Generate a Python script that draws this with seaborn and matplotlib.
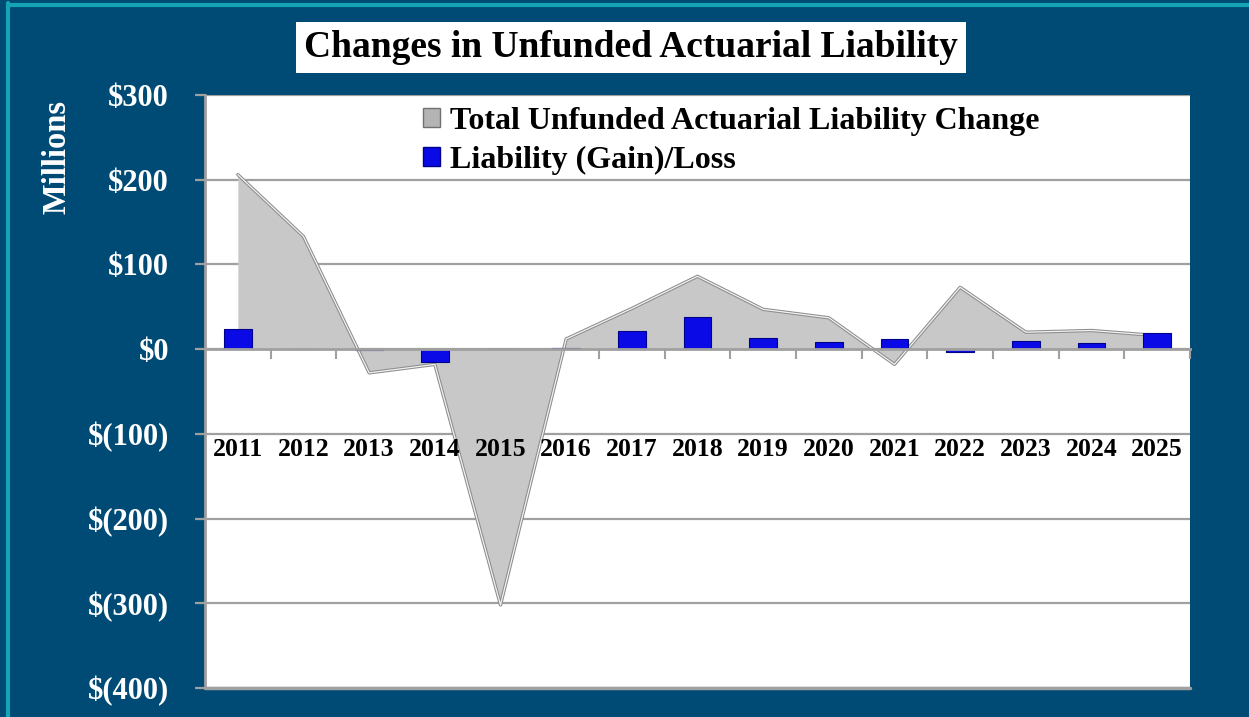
import numpy as np
import pandas as pd
import matplotlib
matplotlib.use('Agg')
import matplotlib.pyplot as plt
import seaborn as sns
from matplotlib.lines import Line2D
from matplotlib.patches import Rectangle
from matplotlib.ticker import FixedLocator

# --- data ($ millions) ---
years = ['2011', '2012', '2013', '2014', '2015', '2016', '2017', '2018',
         '2019', '2020', '2021', '2022', '2023', '2024', '2025']
total_change = [206, 133, -28, -18, -302, 12, 48, 86, 47, 37, -18, 73, 20, 22, 16]
gain_loss = [24, 0, -1, -15, 0, 1, 22, 38, 13, 9, 12, -3, 10, 7, 19]

y_ticks = [300, 200, 100, 0, -100, -200, -300, -400]
y_labels = ['$300', '$200', '$100', '$0', '$(100)', '$(200)', '$(300)', '$(400)']

df = pd.DataFrame({'Year': years, 'Total': total_change, 'GainLoss': gain_loss})

BG = '#004b76'
TEAL = '#14a4b4'
SERIF = ['Liberation Serif', 'DejaVu Serif']

sns.set_style('white')
plt.rcParams['font.family'] = SERIF
plt.rcParams['font.weight'] = 'bold'
plt.rcParams['text.color'] = 'black'

fig = plt.figure(figsize=(12.49, 7.17), dpi=100, facecolor=BG)
ax = fig.add_axes([205 / 1249, 1 - 688 / 717, 985 / 1249, 593 / 717])
ax.set_facecolor('white')

# teal frame on top / left edge
fig.add_artist(Line2D([0.0064, 0.0064], [0, 0.9958], color=TEAL, lw=3, transform=fig.transFigure))
fig.add_artist(Line2D([0.0064, 1.0], [0.9930, 0.9930], color=TEAL, lw=3, transform=fig.transFigure))

# area series (total change), with a little bevel look
x = np.arange(len(years))
ax.fill_between(x, df['Total'], 0, color='#c8c8c8', zorder=2, lw=0)
ax.plot(x, df['Total'], color='#8c8c8c', lw=2.4, zorder=3)
ax.plot(x, df['Total'], color='#f2f2f2', lw=0.9, zorder=3)

# bars (gain/loss)
sns.barplot(data=df, x='Year', y='GainLoss', color='#0a0ae6', width=0.42,
            saturation=1, edgecolor='#00008a', linewidth=0.8, ax=ax, zorder=4)

ax.set_xlim(-0.5, len(years) - 0.5)
ax.set_ylim(-400, 300)

# y axis
ax.set_yticks(y_ticks)
ax.set_yticklabels(y_labels, color='white', fontsize=22, fontweight='bold')
ax.yaxis.grid(True, color='#a0a0a0', lw=1.6, zorder=1)
ax.tick_params(axis='y', direction='out', length=7, width=1.6, color='#a0a0a0', pad=19, left=True)
ax.set_ylabel('Millions', color='white', fontsize=23.5, fontweight='bold')
ax.yaxis.set_label_coords(-0.135, 0.895)

# x axis sits on the zero line, year labels drawn above the area
ax.spines['bottom'].set_position(('data', 0))
ax.spines['bottom'].set_color('#a0a0a0')
ax.spines['bottom'].set_linewidth(2)
ax.spines['bottom'].set_zorder(5)
ax.xaxis.set_minor_locator(FixedLocator(np.arange(0.5, len(years), 1.0)))
ax.tick_params(axis='x', which='minor', direction='out', length=7, width=1.5,
               color='#a0a0a0', bottom=True)
ax.tick_params(axis='x', which='major', length=0, labelbottom=False)
ax.set_xlabel('')
for i, yr in enumerate(years):
    ax.text(i, -118, yr, ha='center', va='center', fontsize=18.5,
            fontweight='bold', color='black', zorder=10)

for s in ['top', 'right']:
    ax.spines[s].set_visible(False)
ax.spines['left'].set_color('#a0a0a0')
ax.spines['left'].set_linewidth(2)
ax.axhline(-400, color='#a0a0a0', lw=2.5, zorder=6, clip_on=False)

# legend
handles = [Rectangle((0, 0), 1, 1, facecolor='#b4b4b4', edgecolor='#707070'),
           Rectangle((0, 0), 1, 1, facecolor='#0a0ae6', edgecolor='#00008a')]
leg = ax.legend(handles, ['Total Unfunded Actuarial Liability Change', 'Liability (Gain)/Loss'],
                loc='upper left', bbox_to_anchor=(0.192, 1.028), frameon=False,
                prop={'family': SERIF, 'weight': 'bold', 'size': 23},
                handlelength=0.55, handleheight=0.55, handletextpad=0.3, labelspacing=0.3)
for t in leg.get_texts():
    t.set_color('black')

# title in a white box
fig.text(0.505, 0.934, 'Changes in Unfunded Actuarial Liability', ha='center', va='center',
         fontsize=27, fontweight='bold', color='black',
         bbox=dict(facecolor='white', edgecolor='none', boxstyle='square,pad=0.22'))

fig.savefig('out.png', dpi=100, facecolor=BG)
